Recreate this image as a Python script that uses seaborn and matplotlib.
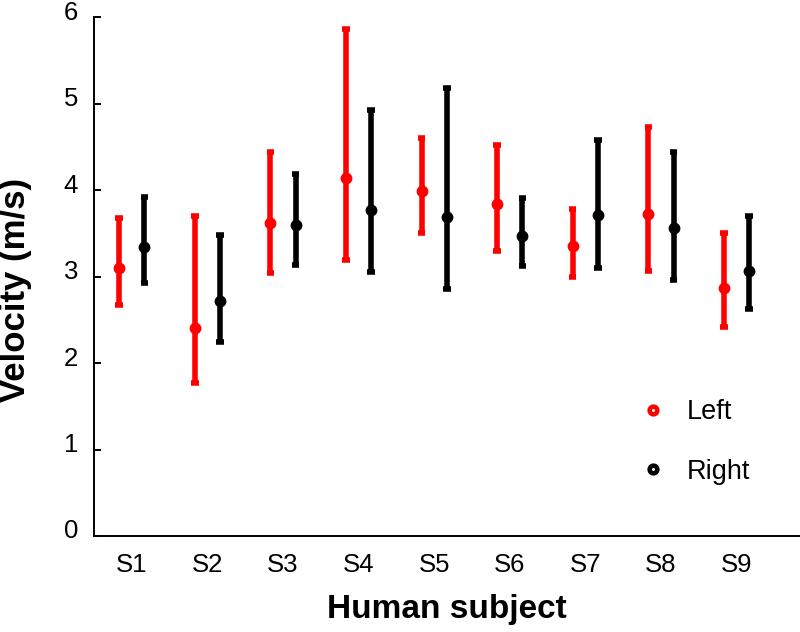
import numpy as np
import pandas as pd
import matplotlib
matplotlib.use("Agg")
import matplotlib.pyplot as plt
import matplotlib.transforms as mtransforms
from matplotlib.lines import Line2D
import seaborn as sns

# Values
subjects = ['S1', 'S2', 'S3', 'S4', 'S5', 'S6', 'S7', 'S8', 'S9']
left_mean = [3.10, 2.41, 3.62, 4.14, 3.99, 3.84, 3.35, 3.73, 2.87]
left_low = [2.67, 1.77, 3.04, 3.19, 3.51, 3.30, 3.00, 3.07, 2.42]
left_high = [3.68, 3.70, 4.44, 5.87, 4.60, 4.52, 3.78, 4.73, 3.51]
right_mean = [3.34, 2.72, 3.60, 3.77, 3.69, 3.47, 3.71, 3.56, 3.07]
right_low = [2.93, 2.24, 3.14, 3.05, 2.86, 3.12, 3.10, 2.96, 2.63]
right_high = [3.92, 3.48, 4.19, 4.93, 5.18, 3.91, 4.58, 4.44, 3.70]

# Long table: low / mean / high per subject and side,
# median gives the point, min-max gives the error bar
rows = []
for side, lo, mid, hi in [('Left', left_low, left_mean, left_high),
                          ('Right', right_low, right_mean, right_high)]:
    for s, a, b, c in zip(subjects, lo, mid, hi):
        for v in (a, b, c):
            rows.append({'Subject': s, 'Side': side, 'Velocity': v})
df = pd.DataFrame(rows)

sns.set_theme(style="white")
plt.rcParams['font.family'] = ['Liberation Sans', 'DejaVu Sans']
plt.rcParams['text.color'] = 'black'
plt.rcParams['axes.labelcolor'] = 'black'
plt.rcParams['xtick.color'] = 'black'
plt.rcParams['ytick.color'] = 'black'

fig = plt.figure(figsize=(8, 6.32), dpi=100)
ax = fig.add_axes([94 / 800, 96 / 632, 706 / 800, 518.7 / 632])

sns.pointplot(data=df, x='Subject', y='Velocity', hue='Side',
              order=subjects, hue_order=['Left', 'Right'],
              palette={'Left': '#ff0000', 'Right': 'black'},
              estimator='median', errorbar=lambda v: (v.min(), v.max()),
              dodge=0.334, linestyle='none', markers='o', markersize=8.5,
              markeredgewidth=0, capsize=0.1,
              err_kws={'linewidth': 4.0, 'solid_capstyle': 'butt'},
              legend=False, ax=ax)

ax.set_ylim(0, 6)
ax.set_xlim(-0.5, 8.84)
ax.set_yticks(range(0, 7))

for side in ['top', 'right']:
    ax.spines[side].set_visible(False)
for side in ['left', 'bottom']:
    ax.spines[side].set_color('black')
    ax.spines[side].set_linewidth(1.4)

ax.tick_params(axis='y', direction='in', length=5, width=1.4, color='black',
               labelsize=18.5, pad=11.5, left=True)
ax.tick_params(axis='x', length=0, labelsize=18.5, pad=12)

# labels sit slightly above their ticks in the reference
offset = mtransforms.ScaledTranslation(0, 7 / 100, fig.dpi_scale_trans)
for lab in ax.get_yticklabels():
    lab.set_transform(lab.get_transform() + offset)

ax.set_xlabel('Human subject', fontsize=24, fontweight='bold')
ax.set_ylabel('Velocity (m/s)', fontsize=25, fontweight='bold')
ax.xaxis.set_label_coords(0.5, -0.112)
ax.yaxis.set_label_coords(-0.088, 0.475)

handles = [Line2D([], [], linestyle='none', marker='o', markersize=5.5,
                  markerfacecolor='white', markeredgecolor='#ff0000',
                  markeredgewidth=3.3),
           Line2D([], [], linestyle='none', marker='o', markersize=5.5,
                  markerfacecolor='white', markeredgecolor='black',
                  markeredgewidth=3.3)]
fig.legend(handles, ['Left', 'Right'], loc='center left',
           bbox_to_anchor=(0.7998, 0.3007), frameon=False, fontsize=19.5,
           handlelength=1.0, handletextpad=0.74, labelspacing=1.25,
           borderpad=0, borderaxespad=0)

fig.savefig('out.png', dpi=100)
